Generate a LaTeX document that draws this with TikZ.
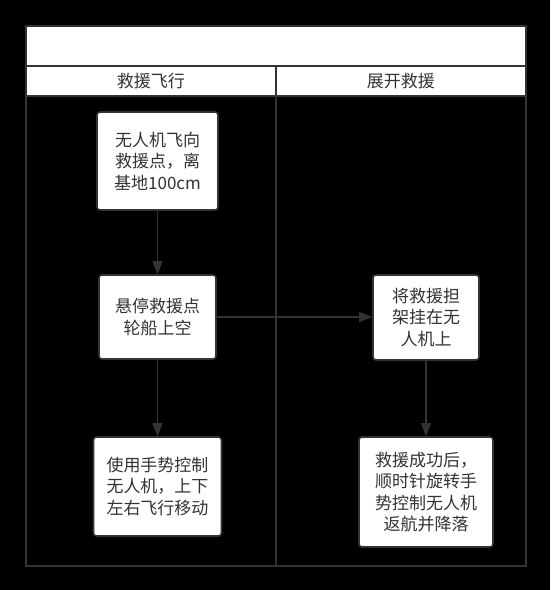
\documentclass[tikz,border=0pt]{standalone}
\usepackage{fontspec}
\setmainfont{Noto Sans CJK SC}
\usetikzlibrary{arrows.meta}
\definecolor{ln}{HTML}{333333}
\begin{document}
\begin{tikzpicture}[x=1pt,y=-1pt,
  txt/.style={font=\fontsize{17}{21.5}\selectfont, text=ln},
  box/.style={txt, draw=ln, line width=1.6pt, fill=white, rounded corners=3pt, align=center, inner sep=0pt},
  lanehead/.style={txt, draw=ln, line width=1.6pt, fill=white, inner sep=0pt, anchor=north west},
  lanebody/.style={draw=ln, line width=1.6pt, inner sep=0pt, anchor=north west},
  flow/.style={draw=ln, line width=1.4pt, -{Triangle[length=13pt,width=10pt]}}]
\fill[black] (0,0) rectangle (550,590);
\useasboundingbox (0,0) rectangle (550,590);
\node[lanebody, minimum width=250, minimum height=470] (bodyA) at (25,95) {};
\node[lanebody, minimum width=250, minimum height=470] (bodyB) at (275,95) {};
\node[lanehead, minimum width=500, minimum height=40] (title) at (25,25) {};
\node[lanehead, minimum width=250, minimum height=30] (headA) at (25,65) {救援飞行};
\node[lanehead, minimum width=250, minimum height=30] (headB) at (275,65) {展开救援};
\node[box, minimum width=121, minimum height=98] (b1) at (157.5,161) {无人机飞向\\救援点，离\\基地100cm};
\node[box, minimum width=117, minimum height=84] (b2) at (157.5,317) {悬停救援点\\轮船上空};
\node[box, minimum width=128, minimum height=99] (b5) at (157.5,486.5) {使用手势控制\\无人机，上下\\左右飞行移动};
\node[box, minimum width=106, minimum height=85] (b3) at (426,317.5) {将救援担\\架挂在无\\人机上};
\node[box, minimum width=134, minimum height=110] (b4) at (426,492) {救援成功后，\\顺时针旋转手\\势控制无人机\\返航并降落};
\draw[flow] (b1) -- (b2);
\draw[flow] (b2) -- (b5);
\draw[flow] (b2.east) -- (b3.west |- b2.east);
\draw[flow] (b3) -- (b4);
\end{tikzpicture}
\end{document}
